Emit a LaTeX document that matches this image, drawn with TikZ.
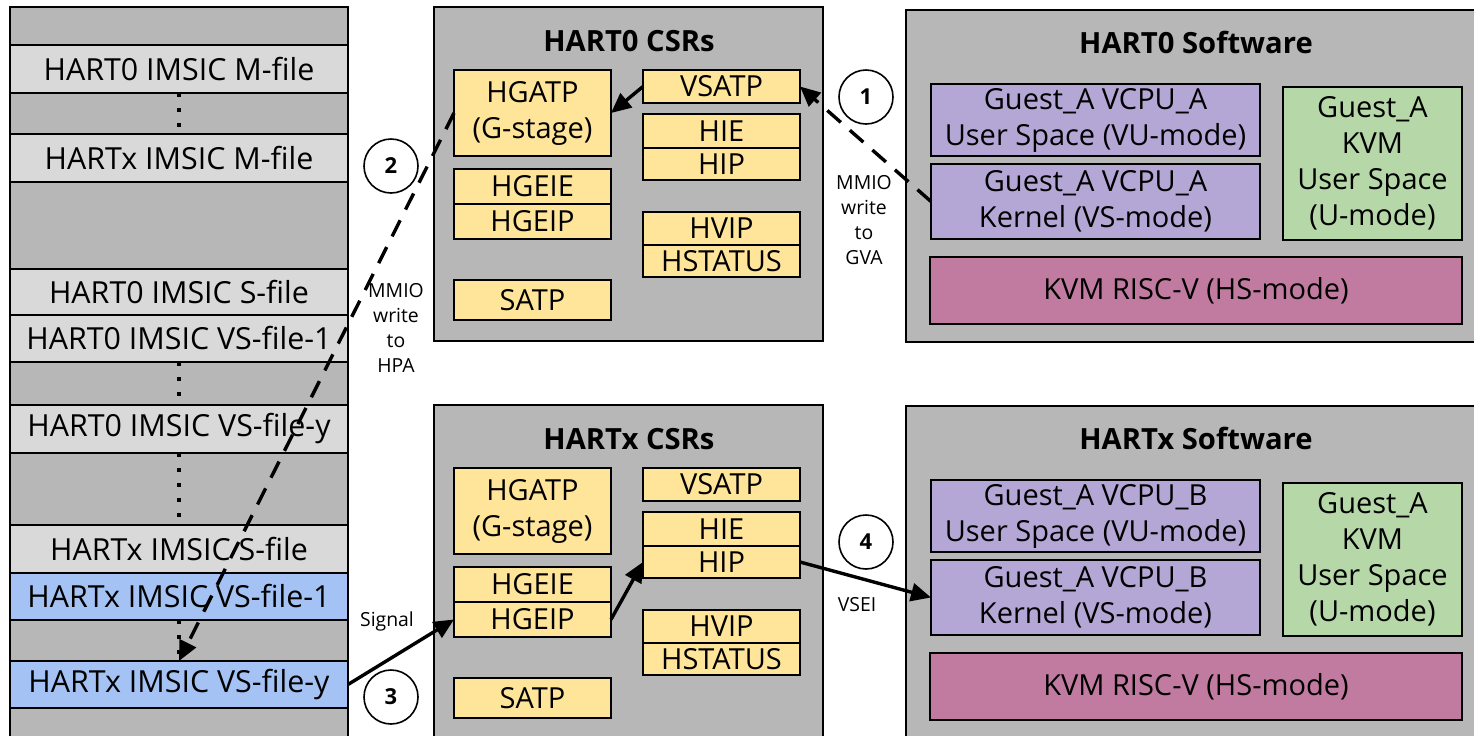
\documentclass[tikz,border=0pt]{standalone}
\usepackage{fontspec}
\setmainfont{Open Sans}
\usetikzlibrary{arrows.meta,positioning}

\definecolor{memgray}{HTML}{B7B7B7}
\definecolor{rowgray}{HTML}{D9D9D9}
\definecolor{rowblue}{HTML}{A4C2F4}
\definecolor{csrylw}{HTML}{FFE599}
\definecolor{vcpupurple}{HTML}{B4A7D6}
\definecolor{kvmgreen}{HTML}{B6D7A8}
\definecolor{hsmagenta}{HTML}{C27BA0}

\begin{document}
\begin{tikzpicture}
    [
    x = 0.5pt, y = -0.5pt,
    base box/.style = {draw, line width = 1pt, inner sep = 0pt, outer sep = 0pt,
                       align = center, font = \fontsize{14.5}{18}\selectfont},
    imsic row/.style = {base box, fill = rowgray, minimum width = 169pt,
                        font = \fontsize{15.2}{18}\selectfont},
    csr frame/.style = {base box, fill = memgray, minimum width = 194.5pt, minimum height = 167pt},
    csr box/.style = {base box, fill = csrylw, minimum width = 78.5pt},
    sw frame/.style = {base box, fill = memgray, minimum width = 292pt, minimum height = 166pt},
    vcpu box/.style = {base box, fill = vcpupurple, minimum width = 164.5pt},
    kvm box/.style = {base box, fill = kvmgreen, minimum width = 89.5pt, minimum height = 76.5pt},
    hs box/.style = {base box, fill = hsmagenta, minimum width = 266pt, minimum height = 33.5pt},
    title/.style = {font = \fontsize{14.6}{18}\selectfont\bfseries},
    small label/.style = {align = center, inner sep = 0pt, font = \fontsize{9.7}{12.5}\selectfont},
    numcirc/.style = {circle, draw, line width = 0.8pt, minimum size = 27pt, inner sep = 0pt,
                      font = \fontsize{11}{13}\selectfont\bfseries},
    dotline/.style = {line width = 2pt, dash pattern = on 2pt off 5.5pt},
    conn/.style = {line width = 1.7pt, -{Triangle[length = 10pt, width = 9pt]}},
    dashed conn/.style = {dash pattern = on 9pt off 6pt},
    ]
    \clip (0,0) rectangle (1474,735);

    % IMSIC interrupt files in the physical address space
    \node[base box, fill = memgray, minimum width = 169pt, minimum height = 380pt,
          anchor = north west] (imsic) at (10,7) {};
    \node[imsic row, minimum height = 24pt] (m0) at (179,69) {HART0 IMSIC M-file};
    \node[imsic row, minimum height = 24pt] (mx) at (179,158) {HARTx IMSIC M-file};
    \node[imsic row, minimum height = 23pt] (s0) at (179,292) {HART0 IMSIC S-file};
    \node[imsic row, minimum height = 23.5pt, below = 0pt of s0] (vs01) {HART0 IMSIC VS-file-1};
    \node[imsic row, minimum height = 24pt] (vs0y) at (179,429) {HART0 IMSIC VS-file-y};
    \node[imsic row, minimum height = 24pt] (sx) at (179,549) {HARTx IMSIC S-file};
    \node[imsic row, fill = rowblue, minimum height = 23.5pt, below = 0pt of sx] (vsx1) {HARTx IMSIC VS-file-1};
    \node[imsic row, fill = rowblue, minimum height = 23.5pt] (vsxy) at (179,684.5) {HARTx IMSIC VS-file-y};
    \draw[dotline] (m0.south) -- (mx.north);
    \draw[dotline] (vs01.south) -- (vs0y.north);
    \draw[dotline] (vs0y.south) -- (sx.north);
    \draw[dotline] (vsx1.south) -- (vsxy.north);

    % HART0 CSRs
    \node[csr frame] (csr0) at (628.5,174) {};
    \node[title] (csr0 title) at (629,41) {HART0 CSRs};
    \node[csr box, minimum height = 43pt] (hgatp0) at (532.5,113) {HGATP\\(G-stage)};
    \node[csr box, minimum height = 17.5pt] (hgeie0) at (532.5,186.5) {HGEIE};
    \node[csr box, minimum height = 17.5pt, below = 0pt of hgeie0] (hgeip0) {HGEIP};
    \node[csr box, minimum height = 20pt] (satp0) at (532.5,300) {SATP};
    \node[csr box, minimum height = 16.5pt] (vsatp0) at (721.5,86.5) {VSATP};
    \node[csr box, minimum height = 17pt] (hie0) at (721.5,131) {HIE};
    \node[csr box, minimum height = 16pt, below = 0pt of hie0] (hip0) {HIP};
    \node[csr box, minimum height = 16.5pt] (hvip0) at (721.5,228.5) {HVIP};
    \node[csr box, minimum height = 16pt, below = 0pt of hvip0] (hstatus0) {HSTATUS};

    % HARTx CSRs
    \node[csr frame] (csr1) at (628.5,572) {};
    \node[title] (csr1 title) at (629,439) {HARTx CSRs};
    \node[csr box, minimum height = 43pt] (hgatp1) at (532.5,511) {HGATP\\(G-stage)};
    \node[csr box, minimum height = 17.5pt] (hgeie1) at (532.5,584.5) {HGEIE};
    \node[csr box, minimum height = 17.5pt, below = 0pt of hgeie1] (hgeip1) {HGEIP};
    \node[csr box, minimum height = 20pt] (satp1) at (532.5,698) {SATP};
    \node[csr box, minimum height = 16.5pt] (vsatp1) at (721.5,484.5) {VSATP};
    \node[csr box, minimum height = 17pt] (hie1) at (721.5,529) {HIE};
    \node[csr box, minimum height = 16pt, below = 0pt of hie1] (hip1) {HIP};
    \node[csr box, minimum height = 16.5pt] (hvip1) at (721.5,626.5) {HVIP};
    \node[csr box, minimum height = 16pt, below = 0pt of hvip1] (hstatus1) {HSTATUS};

    % HART0 software stack
    \node[sw frame] (sw0) at (1198,176) {};
    \node[title] (sw0 title) at (1196,42) {HART0 Software};
    \node[vcpu box, minimum height = 36pt] (usrA) at (1095.5,120) {Guest\_A VCPU\_A\\User Space (VU-mode)};
    \node[vcpu box, minimum height = 37.5pt] (kerA) at (1095.5,201.5) {Guest\_A VCPU\_A\\Kernel (VS-mode)};
    \node[kvm box] (kvmu0) at (1372.5,163.5) {Guest\_A\\KVM\\User Space\\(U-mode)};
    \node[hs box] (hs0) at (1196,290.5) {KVM RISC-V (HS-mode)};

    % HARTx software stack
    \node[sw frame] (sw1) at (1198,572) {};
    \node[title] (sw1 title) at (1196,438) {HARTx Software};
    \node[vcpu box, minimum height = 36pt] (usrB) at (1095.5,516) {Guest\_A VCPU\_B\\User Space (VU-mode)};
    \node[vcpu box, minimum height = 37.5pt] (kerB) at (1095.5,597.5) {Guest\_A VCPU\_B\\Kernel (VS-mode)};
    \node[kvm box] (kvmu1) at (1372.5,559.5) {Guest\_A\\KVM\\User Space\\(U-mode)};
    \node[hs box] (hs1) at (1196,686.5) {KVM RISC-V (HS-mode)};

    % step numbers and arrow labels
    \node[numcirc] (n1) at (866,97) {1};
    \node[numcirc] (n2) at (391,166) {2};
    \node[numcirc] (n3) at (391,697) {3};
    \node[numcirc] (n4) at (866,542) {4};
    \node[small label] (gva) at (864,220) {MMIO\\write\\to\\GVA};
    \node[small label] (hpa) at (396,328) {MMIO\\write\\to\\HPA};
    \node[small label] (sig) at (387,621) {Signal};
    \node[small label] (vsei) at (857,605) {VSEI};

    % interrupt path
    \draw[conn, dashed conn] (kerA.west) -- (vsatp0.east);
    \draw[conn] (vsatp0.west) -- (hgatp0.east);
    \draw[conn, dashed conn] (hgatp0.west) -- (vsxy.north);
    \draw[conn] (vsxy.east) -- (hgeip1.west);
    \draw[conn] (hgeip1.east) -- (hip1.west);
    \draw[conn] (hip1.east) -- (kerB.west);
\end{tikzpicture}
\end{document}
